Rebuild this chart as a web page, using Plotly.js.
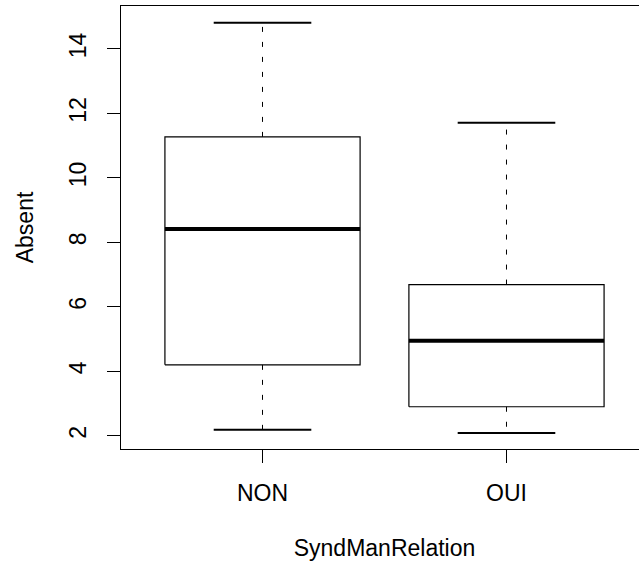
<!DOCTYPE html>
<html>
<head>
<meta charset="utf-8">
<script src="https://cdn.plot.ly/plotly-3.0.1.min.js"></script>
<style>
html, body { margin: 0; padding: 0; overflow: hidden; background: #fff; }
#chart { width: 650px; height: 563px; }
</style>
</head>
<body>
<div id="chart"></div>
<script>
// Data
const categories = ['NON', 'OUI'];
const lowerWhisker = [2.19, 2.09];
const q1 = [4.20, 2.90];
const median = [8.41, 4.95];
const q3 = [11.27, 6.69];
const upperWhisker = [14.81, 11.71];
const yTicks = [2, 4, 6, 8, 10, 12, 14];

const halfBox = 0.4;
const halfCap = 0.2;
const traces = [];

categories.forEach(function (cat, i) {
  const c = i + 1;
  // whiskers (dashed)
  traces.push({
    type: 'scatter', mode: 'lines', hoverinfo: 'skip', showlegend: false,
    x: [c, c, null, c, c],
    y: [q3[i], upperWhisker[i], null, q1[i], lowerWhisker[i]],
    line: { color: '#000', width: 1, dash: '5px,10px' }
  });
  // staples
  traces.push({
    type: 'scatter', mode: 'lines', hoverinfo: 'skip', showlegend: false,
    x: [c - halfCap, c + halfCap, null, c - halfCap, c + halfCap],
    y: [upperWhisker[i], upperWhisker[i], null, lowerWhisker[i], lowerWhisker[i]],
    line: { color: '#000', width: 2 }
  });
  // box
  traces.push({
    type: 'scatter', mode: 'lines', hoverinfo: 'skip', showlegend: false,
    x: [c - halfBox, c + halfBox, c + halfBox, c - halfBox, c - halfBox],
    y: [q1[i], q1[i], q3[i], q3[i], q1[i]],
    line: { color: '#000', width: 1.2 }
  });
  // median
  traces.push({
    type: 'scatter', mode: 'lines', hoverinfo: 'skip', showlegend: false,
    x: [c - halfBox, c + halfBox],
    y: [median[i], median[i]],
    line: { color: '#000', width: 4 }
  });
});

const font = { family: 'Liberation Sans, Arial, Helvetica, sans-serif', size: 23, color: '#000' };

const layout = {
  width: 650, height: 563,
  margin: { l: 121, r: 2, t: 6, b: 114 },
  paper_bgcolor: '#fff', plot_bgcolor: '#fff',
  font: font,
  showlegend: false,
  xaxis: {
    range: [0.42, 2.58],
    tickvals: categories.map(function (_, i) { return i + 1; }),
    ticktext: categories,
    ticks: 'outside', ticklen: 13, tickwidth: 1.2, tickcolor: '#000',
    ticklabelstandoff: 10,
    showline: true, mirror: true, linecolor: '#000', linewidth: 1.2,
    showgrid: false, zeroline: false,
    tickfont: font,
    title: { text: 'SyndManRelation', font: font, standoff: 35 }
  },
  yaxis: {
    range: [1.59, 15.33],
    tickvals: yTicks,
    ticktext: yTicks.map(String),
    tickangle: -90,
    ticks: 'outside', ticklen: 13, tickwidth: 1.2, tickcolor: '#000',
    ticklabelstandoff: 12,
    showline: true, mirror: true, linecolor: '#000', linewidth: 1.2,
    showgrid: false, zeroline: false,
    tickfont: font,
    title: { text: 'Absent', font: font, standoff: 24 }
  }
};

Plotly.newPlot('chart', traces, layout, { displayModeBar: false, staticPlot: true });
</script>
</body>
</html>
